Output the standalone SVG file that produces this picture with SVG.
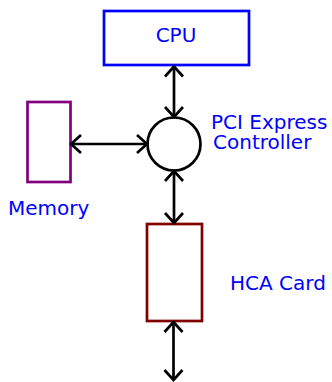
<svg xmlns="http://www.w3.org/2000/svg" width="332" height="382" viewBox="0 0 332 382">
<style>
text{font-family:"DejaVu Sans",sans-serif;font-size:20px;fill:#0000ff}
.c{stroke:#000;stroke-width:2.7;fill:none}
</style>
<defs>
<marker id="ah" markerUnits="userSpaceOnUse" markerWidth="24" markerHeight="24" refX="0" refY="0" viewBox="-12 -12 24 24" orient="auto-start-reverse" overflow="visible">
<path d="M-10,-9 L0,0 L-10,9" fill="none" stroke="#000" stroke-width="2.7"/>
</marker>
</defs>
<rect width="332" height="382" fill="#fff"/>
<g id="cpu">
<rect x="104" y="11" width="145" height="54" fill="#fff" stroke="#0000ff" stroke-width="2.7"/>
<text x="176" y="42" text-anchor="middle">CPU</text>
</g>
<g id="pcie">
<circle cx="174" cy="144" r="26.5" fill="#fff" stroke="#000" stroke-width="2.7"/>
<text x="211" y="129">PCI Express</text>
<text x="213" y="148.5">Controller</text>
</g>
<g id="memory">
<rect x="27.5" y="102" width="43" height="80" fill="#fff" stroke="#800080" stroke-width="2.7"/>
<text x="8" y="215">Memory</text>
</g>
<g id="hca">
<rect x="147" y="224" width="55" height="97" fill="#fff" stroke="#800000" stroke-width="2.7"/>
<text x="230" y="290">HCA Card</text>
</g>
<g id="connectors">
<path class="c" d="M174,66.5 L174,117" marker-start="url(#ah)" marker-end="url(#ah)"/>
<path class="c" d="M71,144 L147,144" marker-start="url(#ah)" marker-end="url(#ah)"/>
<path class="c" d="M174,171 L174,223" marker-start="url(#ah)" marker-end="url(#ah)"/>
<path class="c" d="M173.5,322 L173.5,380" marker-start="url(#ah)" marker-end="url(#ah)"/>
</g>
</svg>
